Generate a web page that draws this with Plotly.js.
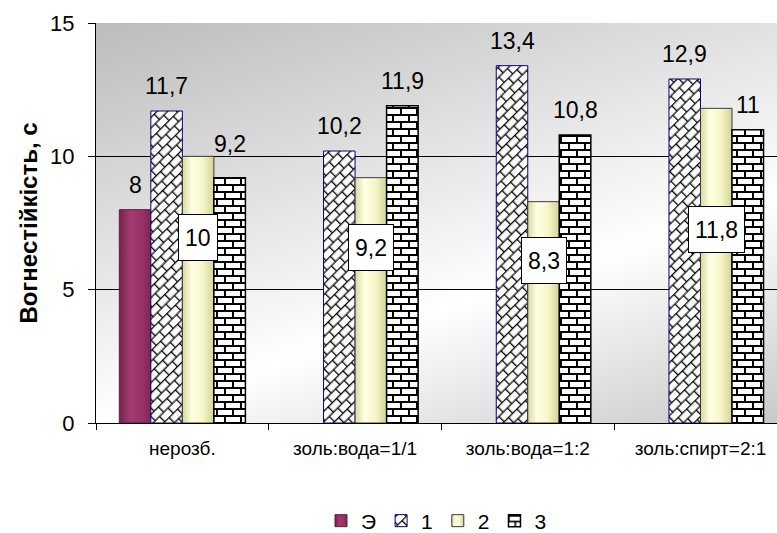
<!DOCTYPE html>
<html>
<head>
<meta charset="utf-8">
<script src="https://cdn.plot.ly/plotly-3.0.1.min.js"></script>
<style>
  html, body { margin: 0; padding: 0; background: #fff; }
  #chart { width: 777px; height: 533px; }
</style>
</head>
<body>
<div id="chart"></div>
<script>
// Fire resistance of treated samples, seconds
const categories = ['нерозб.', 'золь:вода=1/1', 'золь:вода=1:2', 'золь:спирт=2:1'];
const seriesNames = ['Э', '1', '2', '3'];
const seriesE = [8, null, null, null];
const series1 = [11.7, 10.2, 13.4, 12.9];
const series2 = [10, 9.2, 8.3, 11.8];
const series3 = [9.2, 11.9, 10.8, 11];
const yTickValues = [0, 5, 10, 15];

// ---- presentation settings ----
const FONT = '"Liberation Sans", Arial, sans-serif';
const BARGAP = 0.27;
const SLOT = (1 - BARGAP) / 4;                 // one bar, in category units
const OFFSETS = [0, 1, 2, 3].map(k => (k - 1.5) * SLOT);
const LABEL_LIFT = 25;                         // px between bar top and label centre
const LABEL_NUDGE = { '3-0': 9 };              // extra lift for single labels
const BOX_LEVELS = [6.97, 6.6, 6.1, 7.25];     // where the boxed labels of series "2" sit

const fmt = v => String(v).replace('.', ',');

const base = { type: 'bar', x: categories, hoverinfo: 'none', textposition: 'none' };

const traces = [
  { ...base, name: seriesNames[0], y: seriesE,
    marker: { color: '#993366', line: { color: '#5c1f3e', width: 1 } } },
  { ...base, name: seriesNames[1], y: series1,
    marker: { color: '#ffffff', line: { color: '#000080', width: 1 },
              pattern: { shape: 'x', fgcolor: '#000000', bgcolor: '#ffffff', size: 10, solidity: 0.15 } } },
  { ...base, name: seriesNames[2], y: series2,
    marker: { color: '#f7f7c9', line: { color: '#3a3a3a', width: 1 } } },
  { ...base, name: seriesNames[3], y: series3,
    marker: { color: '#ffffff', line: { color: '#000000', width: 1.5 },
              pattern: { shape: '+', fgcolor: '#000000', bgcolor: '#ffffff', size: 8, solidity: 0.25 } } }
];

// value labels above the bars
const annotations = [];
[[0, seriesE], [1, series1], [3, series3]].forEach(([k, vals]) => {
  vals.forEach((v, i) => {
    if (v == null) return;
    annotations.push({
      x: i + OFFSETS[k], y: v, xref: 'x', yref: 'y',
      text: fmt(v), showarrow: false, yanchor: 'middle',
      yshift: LABEL_LIFT + (LABEL_NUDGE[k + '-' + i] || 0),
      font: { family: FONT, size: 23, color: '#000' }
    });
  });
});
// boxed labels on series "2"
series2.forEach((v, i) => {
  annotations.push({
    x: i + OFFSETS[2], y: BOX_LEVELS[i], xref: 'x', yref: 'y',
    text: fmt(v), showarrow: false, yanchor: 'middle',
    bgcolor: '#ffffff', bordercolor: '#000000', borderwidth: 1, borderpad: 6, height: 33,
    font: { family: FONT, size: 23, color: '#000' }
  });
});

// soft grey-white-grey backdrop of the plotting area
const bgSvg =
  "<svg xmlns='http://www.w3.org/2000/svg' width='681' height='400' viewBox='0 0 681 400' preserveAspectRatio='none'>" +
  "<defs><linearGradient id='g' gradientUnits='userSpaceOnUse' x1='0' y1='0' x2='193' y2='589'>" +
  "<stop offset='0' stop-color='#bcbcbc'/><stop offset='0.613' stop-color='#ffffff'/><stop offset='1' stop-color='#c2c2c2'/>" +
  "</linearGradient></defs><rect width='681' height='400' fill='url(#g)'/></svg>";

const layout = {
  width: 777, height: 533,
  margin: { l: 96, r: 0, t: 23, b: 110 },
  paper_bgcolor: '#ffffff', plot_bgcolor: 'rgba(0,0,0,0)',
  font: { family: FONT, color: '#000' },
  barmode: 'group', bargap: BARGAP, bargroupgap: 0,
  showlegend: true,
  legend: {
    orientation: 'h', x: 0.5, xanchor: 'center', xref: 'paper',
    y: 0.0225, yref: 'container', yanchor: 'middle',
    font: { family: FONT, size: 21, color: '#000' }, itemwidth: 30, traceorder: 'normal'
  },
  xaxis: {
    type: 'category', range: [-0.5, 3.443], fixedrange: true,
    tickson: 'boundaries', ticks: 'outside', ticklen: 6, tickcolor: '#000', tickwidth: 1,
    showline: true, linecolor: '#000', linewidth: 1, showgrid: false,
    tickfont: { family: FONT, size: 19, color: '#000' }, ticklabelstandoff: 8
  },
  yaxis: {
    range: [0, 15], tickvals: yTickValues, ticks: 'outside', ticklen: 7, tickcolor: '#000',
    showline: true, linecolor: '#000', linewidth: 1,
    showgrid: true, gridcolor: '#000', gridwidth: 1, zeroline: false, fixedrange: true,
    tickfont: { family: FONT, size: 22, color: '#000' }, ticklabelstandoff: 9,
    title: { text: 'Вогнестійкість, с', standoff: 5,
             font: { family: FONT, size: 24, color: '#000', weight: 'bold' } }
  },
  images: [{
    source: 'data:image/svg+xml;charset=utf-8,' + encodeURIComponent(bgSvg),
    xref: 'paper', yref: 'paper', x: 0, y: 1, sizex: 1, sizey: 1,
    xanchor: 'left', yanchor: 'top', sizing: 'stretch', layer: 'below'
  }],
  annotations: annotations
};

// ---- brick fills and cylinder shading ----
const SVGNS = 'http://www.w3.org/2000/svg';
function el(tag, attrs) {
  const e = document.createElementNS(SVGNS, tag);
  Object.keys(attrs).forEach(k => e.setAttribute(k, attrs[k]));
  return e;
}
function patternFor(node) {
  const fill = node.style.fill || node.getAttribute('fill') || '';
  const m = /#([^"')\s]+)/.exec(fill);
  return m ? document.getElementById(m[1]) : null;
}
function brickTile(p, w, h, lw, angle) {
  while (p.firstChild) p.removeChild(p.firstChild);
  p.setAttribute('width', w);
  p.setAttribute('height', h);
  p.setAttribute('patternUnits', 'userSpaceOnUse');
  if (angle) p.setAttribute('patternTransform', 'rotate(' + angle + ')');
  p.appendChild(el('rect', { x: 0, y: 0, width: w, height: h, fill: '#ffffff' }));
  const r = h / 2, o = lw / 2;
  const d = 'M0,' + o + 'H' + w + 'M0,' + (r + o) + 'H' + w +
            'M' + o + ',0V' + r + 'M' + (w / 2 + o) + ',' + r + 'V' + h;
  p.appendChild(el('path', { d: d, stroke: '#000000', 'stroke-width': lw, fill: 'none' }));
}
function addGradient(defs, id, stops) {
  const g = el('linearGradient', { id: id, x1: '0', y1: '0', x2: '1', y2: '0' });
  stops.forEach(([o, c]) => g.appendChild(el('stop', { offset: o, 'stop-color': c })));
  defs.appendChild(g);
}
function decorate(gd) {
  const defs = gd.querySelector('.main-svg defs');
  addGradient(defs, 'shadeE', [[0, '#74224b'], [0.35, '#a53a70'], [0.7, '#993366'], [1, '#7e2752']]);
  addGradient(defs, 'shade2', [[0, '#d8d8a2'], [0.3, '#ffffe2'], [0.65, '#f6f6c8'], [1, '#d2d29c']]);
  const bars = gd.querySelectorAll('.barlayer .trace');
  const legend = gd.querySelectorAll('.legend .traces');
  const groups = [0, 1, 2, 3].map(i => {
    const nodes = [];
    if (bars[i]) bars[i].querySelectorAll('path').forEach(n => nodes.push(n));
    if (legend[i]) legend[i].querySelectorAll('.legendpoints path').forEach(n => nodes.push(n));
    return nodes;
  });
  groups[0].forEach(n => { n.style.fill = 'url(#shadeE)'; });
  groups[2].forEach(n => { n.style.fill = 'url(#shade2)'; });
  const done = new Set();
  groups[1].forEach(n => { const p = patternFor(n); if (p && !done.has(p)) { done.add(p); brickTile(p, 12, 15, 1.3, -45); } });
  groups[3].forEach(n => { const p = patternFor(n); if (p && !done.has(p)) { done.add(p); brickTile(p, 16, 14, 2, 0); } });
}

Plotly.newPlot('chart', traces, layout, { displayModeBar: false, staticPlot: true })
  .then(decorate);
</script>
</body>
</html>
